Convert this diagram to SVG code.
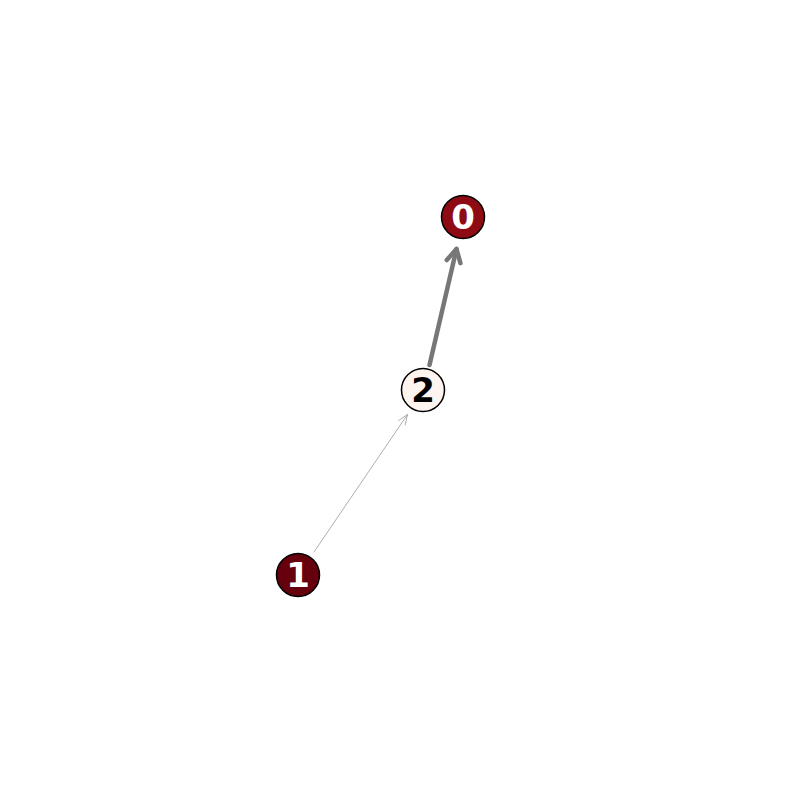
<svg xmlns="http://www.w3.org/2000/svg" width="790" height="790" viewBox="0 0 790 790">
<style>
.node circle{stroke:#000;stroke-width:1.5}
.node text{font-family:"DejaVu Sans",sans-serif;font-weight:bold;font-size:34px;text-anchor:middle}
.edge{fill:none;stroke:#777;stroke-linecap:round;stroke-linejoin:round}
</style>
<rect width="790" height="790" fill="#fff"/>
<g id="edges">
<g id="e2-0" class="edge" stroke-width="4.5"><path d="M429.5,365 L456.5,249"/><path d="M446.8,260.1 L456.5,249 L460.4,263.2"/></g>
<g id="e1-2" class="edge" stroke-width="0.8" style="stroke:#999"><path d="M314,552 L407.5,414.5"/><path d="M398.6,420.5 L407.5,414.5 L405.2,425"/></g>
</g>
<g id="node0" class="node"><circle cx="463" cy="217" r="21.5" fill="#8e0b14"/><text x="463" y="229" fill="#fff">0</text></g>
<g id="node1" class="node"><circle cx="298" cy="575" r="21.5" fill="#67000d"/><text x="298" y="587" fill="#fff">1</text></g>
<g id="node2" class="node"><circle cx="423" cy="390" r="21.5" fill="#fff5f0"/><text x="423" y="402" fill="#000">2</text></g>
</svg>
